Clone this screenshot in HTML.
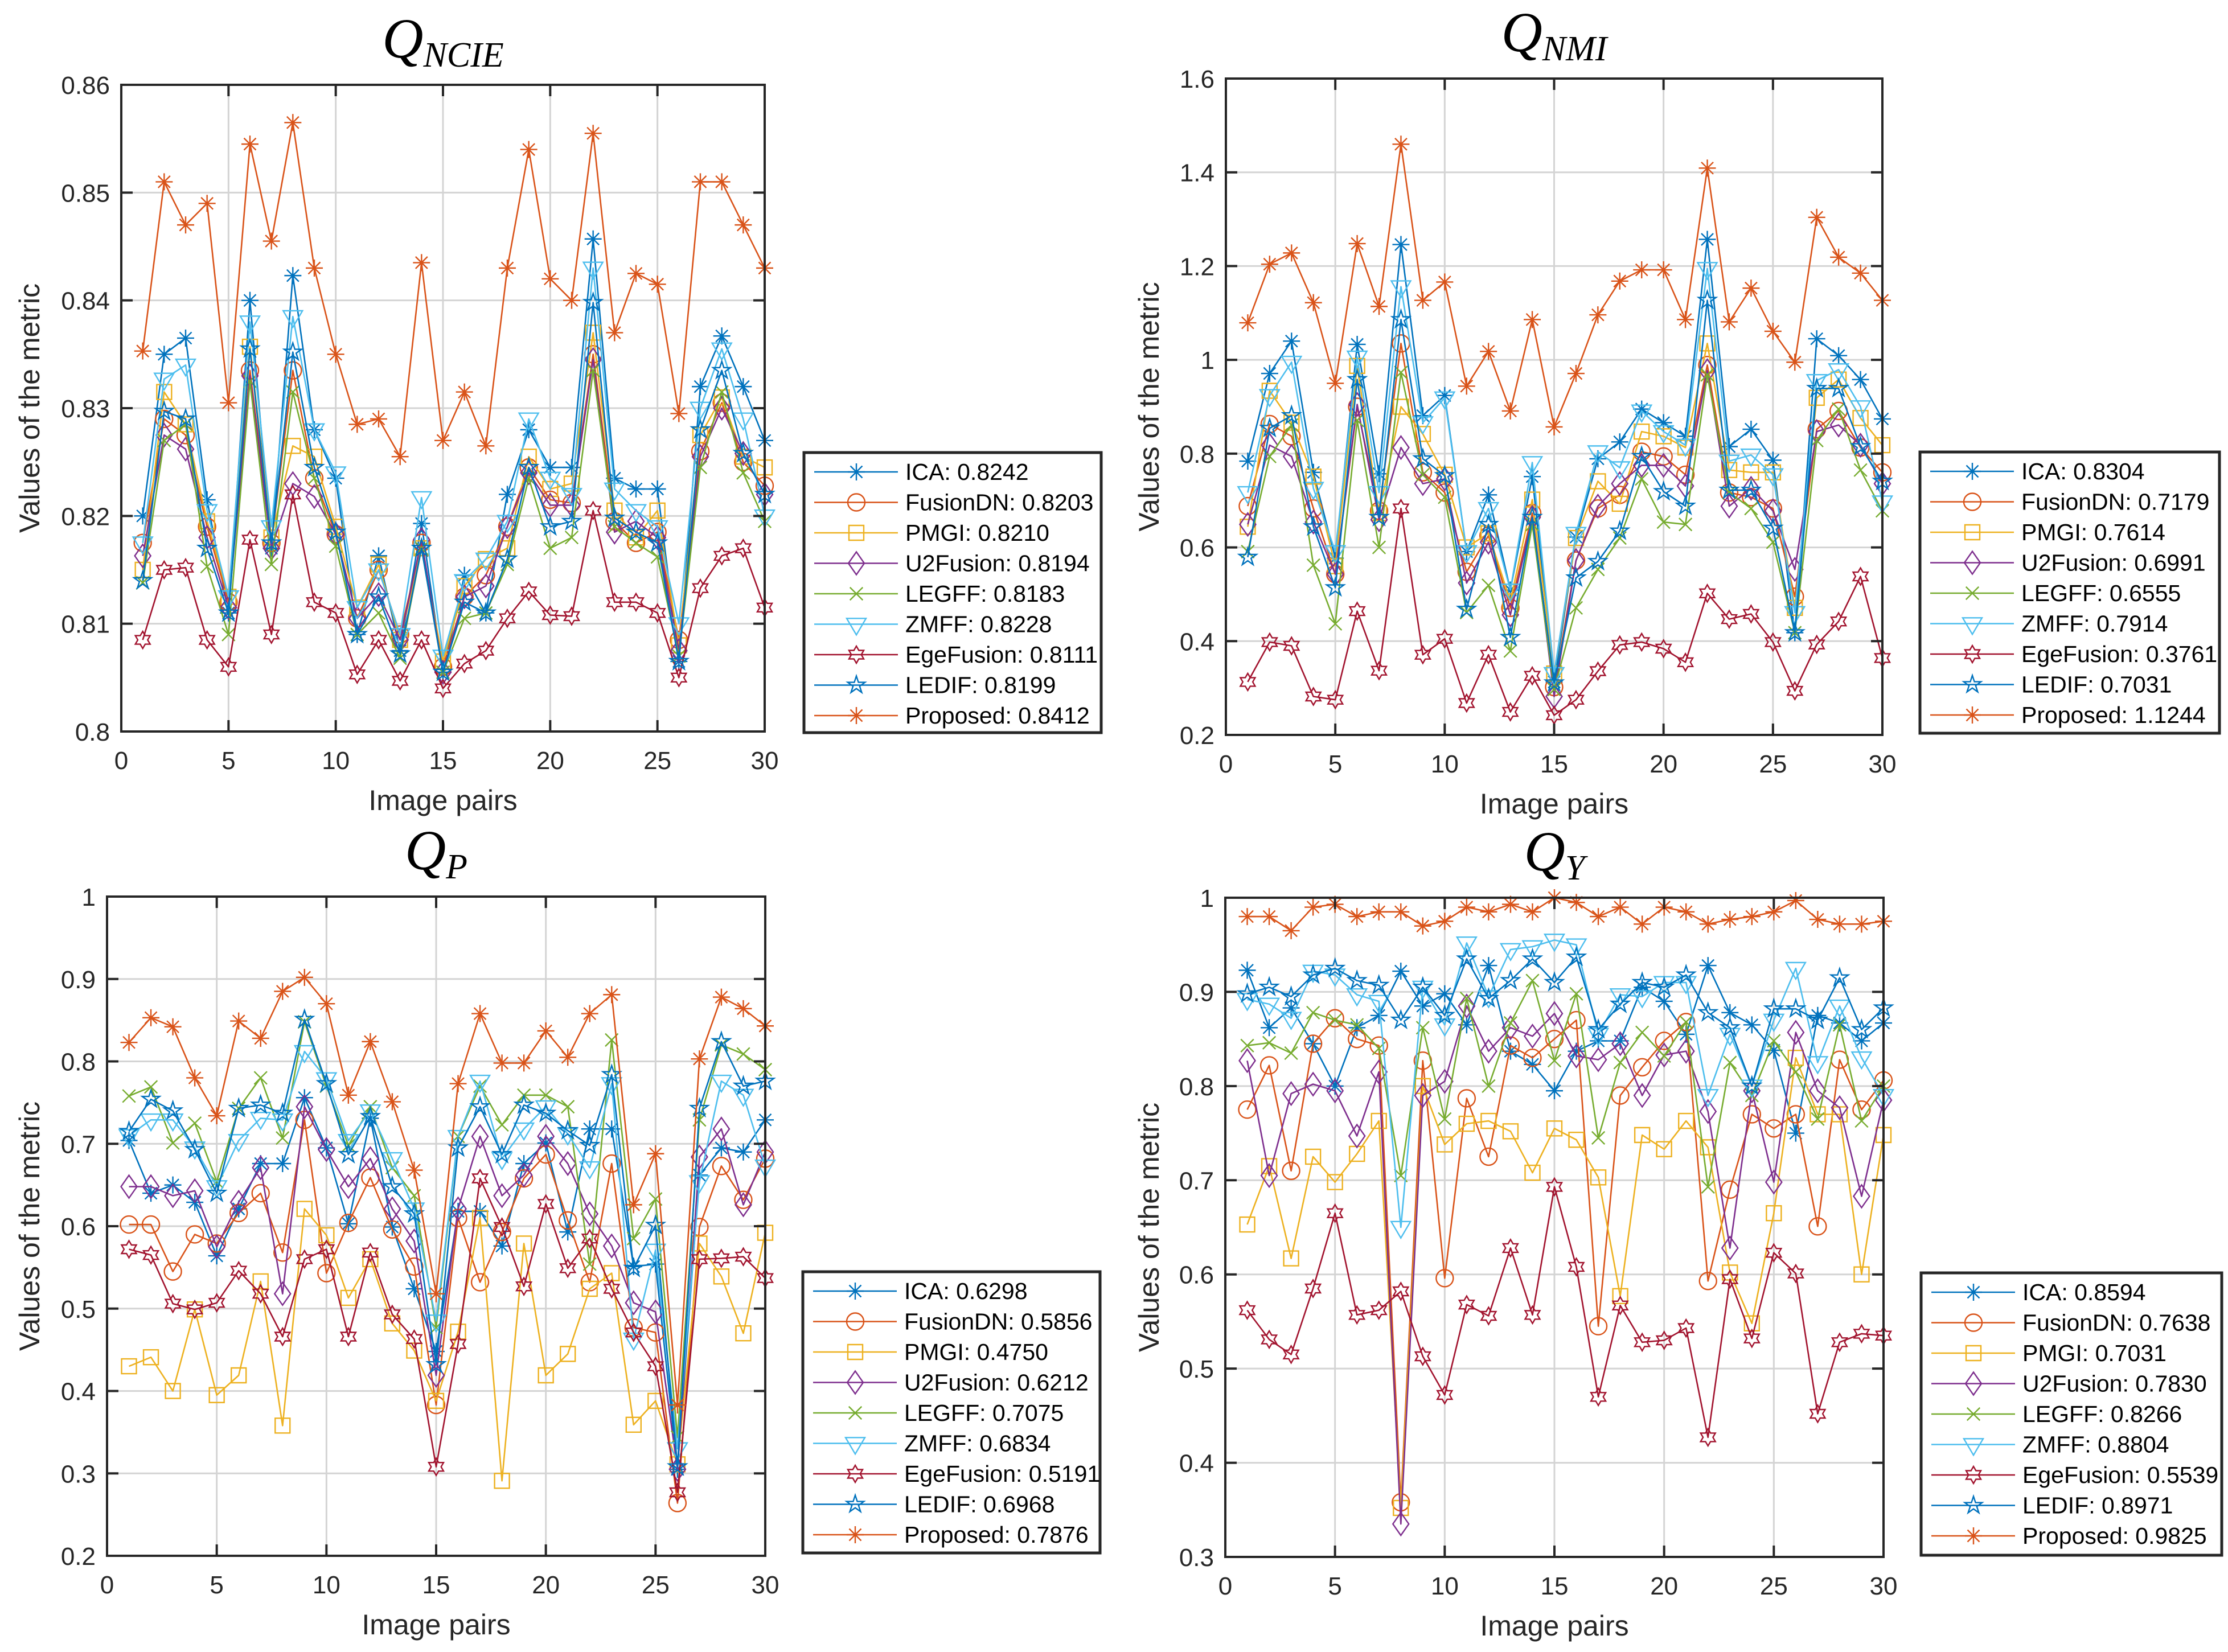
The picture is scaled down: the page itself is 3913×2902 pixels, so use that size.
<!DOCTYPE html>
<html><head><meta charset="utf-8"><style>html,body{margin:0;padding:0;background:#fff}svg{display:block}</style></head>
<body>
<svg id="fig" xmlns="http://www.w3.org/2000/svg" width="3913" height="2902" viewBox="0 0 3913 2902" font-family="'Liberation Sans', sans-serif">
<rect x="0" y="0" width="3913" height="2902" fill="#fff"/>
</svg>
<script>
// ---- data ----
const methods = ["ICA","FusionDN","PMGI","U2Fusion","LEGFF","ZMFF","EgeFusion","LEDIF","Proposed"];
const pairs = [1,2,3,4,5,6,7,8,9,10,11,12,13,14,15,16,17,18,19,20,21,22,23,24,25,26,27,28,29,30];
const xTicks = [0,5,10,15,20,25,30];

const ncieTicks = [0.8,0.81,0.82,0.83,0.84,0.85,0.86];
const ncieTickLabels = ["0.8","0.81","0.82","0.83","0.84","0.85","0.86"];
const ncieMeans = ["0.8242","0.8203","0.8210","0.8194","0.8183","0.8228","0.8111","0.8199","0.8412"];
const ncieICA = [0.820,0.835,0.8365,0.8215,0.811,0.840,0.817,0.8423,0.828,0.8235,0.809,0.8163,0.8075,0.8193,0.8055,0.8145,0.811,0.822,0.828,0.8245,0.8245,0.8457,0.8235,0.8225,0.8225,0.8065,0.832,0.8367,0.832,0.827];
const ncieFusionDN = [0.8175,0.829,0.8275,0.819,0.812,0.8335,0.8175,0.8335,0.8235,0.8183,0.8105,0.815,0.809,0.8175,0.806,0.8125,0.8145,0.819,0.8245,0.8215,0.8212,0.835,0.8195,0.8175,0.8185,0.8085,0.826,0.8305,0.825,0.8228];
const nciePMGI = [0.815,0.8315,0.8285,0.8195,0.8125,0.8357,0.818,0.8265,0.8255,0.819,0.8115,0.8155,0.8085,0.817,0.8065,0.8135,0.816,0.817,0.8255,0.8225,0.823,0.837,0.8205,0.818,0.8205,0.808,0.8275,0.831,0.8255,0.8245];
const ncieU2Fusion = [0.8163,0.8275,0.8262,0.818,0.8115,0.833,0.817,0.823,0.8218,0.8183,0.8105,0.8127,0.8085,0.8178,0.8055,0.8125,0.8135,0.819,0.824,0.821,0.821,0.8345,0.8185,0.8195,0.818,0.8075,0.8255,0.830,0.8258,0.822];
const ncieLEGFF = [0.8138,0.827,0.8285,0.8153,0.809,0.8325,0.8155,0.8315,0.8235,0.8172,0.809,0.811,0.8068,0.817,0.8055,0.8105,0.811,0.8155,0.8235,0.817,0.818,0.8335,0.819,0.8175,0.8162,0.807,0.8245,0.8315,0.824,0.8195];
const ncieZMFF = [0.8175,0.8327,0.834,0.8205,0.8125,0.838,0.819,0.8385,0.828,0.824,0.8115,0.815,0.809,0.8217,0.807,0.814,0.816,0.8195,0.829,0.8235,0.822,0.843,0.8225,0.8205,0.819,0.810,0.830,0.8355,0.829,0.820];
const ncieEge = [0.8085,0.815,0.8152,0.8085,0.806,0.8178,0.809,0.822,0.812,0.811,0.8053,0.8085,0.8047,0.8085,0.804,0.8063,0.8075,0.8105,0.813,0.8108,0.8107,0.8205,0.812,0.812,0.811,0.805,0.8133,0.8163,0.817,0.8115];
const ncieLEDIF = [0.814,0.8297,0.829,0.817,0.811,0.8355,0.8175,0.8352,0.8245,0.8185,0.809,0.8125,0.8072,0.817,0.8055,0.812,0.811,0.816,0.8245,0.819,0.8195,0.8398,0.8198,0.8185,0.8175,0.8065,0.828,0.8335,0.8258,0.822];
const ncieProposed = [0.8353,0.851,0.847,0.849,0.8305,0.8545,0.8455,0.8565,0.843,0.835,0.8285,0.829,0.8255,0.8435,0.827,0.8315,0.8265,0.843,0.854,0.842,0.840,0.8555,0.837,0.8425,0.8415,0.8295,0.851,0.851,0.847,0.843];

const nmiTicks = [0.2,0.4,0.6,0.8,1,1.2,1.4,1.6];
const nmiTickLabels = ["0.2","0.4","0.6","0.8","1","1.2","1.4","1.6"];
const nmiMeans = ["0.8304","0.7179","0.7614","0.6991","0.6555","0.7914","0.3761","0.7031","1.1244"];
const nmiICA = [0.784,0.971,1.04,0.76,0.577,1.033,0.757,1.246,0.881,0.924,0.591,0.712,0.509,0.751,0.313,0.622,0.789,0.825,0.895,0.866,0.837,1.257,0.815,0.852,0.786,0.418,1.045,1.009,0.958,0.874];
const nmiFusionDN = [0.688,0.863,0.837,0.683,0.543,0.9,0.678,1.035,0.76,0.717,0.548,0.625,0.471,0.673,0.302,0.572,0.683,0.712,0.804,0.794,0.755,0.989,0.717,0.707,0.683,0.495,0.852,0.891,0.813,0.76];
const nmiPMGI = [0.644,0.934,0.866,0.751,0.56,0.987,0.673,0.9,0.842,0.755,0.6,0.63,0.485,0.702,0.331,0.62,0.741,0.693,0.847,0.837,0.813,1.035,0.765,0.76,0.76,0.471,0.919,0.958,0.876,0.818];
const nmiU2Fusion = [0.649,0.818,0.794,0.654,0.543,0.905,0.659,0.813,0.736,0.746,0.524,0.611,0.456,0.664,0.282,0.572,0.688,0.736,0.775,0.775,0.731,0.977,0.688,0.726,0.678,0.553,0.847,0.861,0.818,0.736];
const nmiLEGFF = [0.591,0.794,0.861,0.562,0.437,0.871,0.6,0.973,0.755,0.707,0.461,0.519,0.379,0.649,0.297,0.471,0.553,0.62,0.746,0.654,0.649,0.968,0.717,0.683,0.611,0.418,0.828,0.895,0.765,0.678];
const nmiZMFF = [0.717,0.924,0.995,0.726,0.591,1.006,0.717,1.156,0.866,0.919,0.591,0.683,0.509,0.781,0.331,0.63,0.804,0.77,0.891,0.847,0.818,1.195,0.784,0.797,0.755,0.461,0.956,0.979,0.9,0.697];
const nmiEge = [0.313,0.398,0.39,0.282,0.275,0.464,0.337,0.683,0.371,0.405,0.268,0.371,0.249,0.326,0.242,0.275,0.336,0.392,0.398,0.384,0.355,0.502,0.447,0.458,0.398,0.294,0.393,0.442,0.538,0.364];
const nmiLEDIF = [0.579,0.854,0.881,0.644,0.514,0.958,0.664,1.086,0.789,0.753,0.468,0.649,0.408,0.664,0.311,0.535,0.57,0.635,0.794,0.719,0.688,1.127,0.722,0.722,0.641,0.418,0.939,0.939,0.815,0.741];
const nmiProposed = [1.079,1.204,1.228,1.122,0.95,1.248,1.114,1.46,1.127,1.166,0.944,1.018,0.891,1.086,0.857,0.971,1.096,1.168,1.192,1.192,1.086,1.409,1.081,1.153,1.061,0.995,1.304,1.219,1.185,1.127];

const pTicks = [0.2,0.3,0.4,0.5,0.6,0.7,0.8,0.9,1];
const pTickLabels = ["0.2","0.3","0.4","0.5","0.6","0.7","0.8","0.9","1"];
const pMeans = ["0.6298","0.5856","0.4750","0.6212","0.7075","0.6834","0.5191","0.6968","0.7876"];
const pICA = [0.704,0.64,0.65,0.629,0.564,0.621,0.676,0.676,0.756,0.695,0.603,0.731,0.599,0.524,0.448,0.618,0.618,0.576,0.676,0.701,0.593,0.718,0.718,0.551,0.554,0.305,0.662,0.695,0.69,0.729];
const pFusionDN = [0.602,0.602,0.545,0.59,0.579,0.616,0.64,0.568,0.729,0.543,0.604,0.659,0.596,0.551,0.383,0.61,0.532,0.593,0.658,0.687,0.607,0.532,0.676,0.477,0.471,0.264,0.599,0.673,0.632,0.682];
const pPMGI = [0.43,0.441,0.4,0.499,0.395,0.419,0.533,0.358,0.621,0.589,0.513,0.56,0.482,0.449,0.388,0.472,0.61,0.291,0.579,0.419,0.445,0.524,0.543,0.359,0.388,0.311,0.579,0.539,0.47,0.592];
const pU2Fusion = [0.648,0.648,0.637,0.643,0.575,0.629,0.671,0.518,0.745,0.693,0.648,0.682,0.621,0.582,0.419,0.621,0.709,0.637,0.662,0.709,0.676,0.615,0.576,0.507,0.496,0.305,0.684,0.718,0.626,0.69];
const pLEGFF = [0.758,0.769,0.701,0.725,0.654,0.743,0.78,0.707,0.848,0.77,0.698,0.745,0.671,0.637,0.477,0.709,0.77,0.723,0.759,0.759,0.745,0.554,0.826,0.585,0.633,0.344,0.729,0.82,0.809,0.79];
const pZMFF = [0.71,0.729,0.729,0.695,0.648,0.704,0.731,0.729,0.812,0.779,0.704,0.74,0.682,0.621,0.485,0.709,0.776,0.682,0.718,0.745,0.712,0.671,0.773,0.463,0.571,0.33,0.654,0.776,0.759,0.673];
const pEge = [0.572,0.565,0.506,0.499,0.507,0.546,0.518,0.466,0.56,0.572,0.466,0.568,0.493,0.463,0.308,0.457,0.658,0.599,0.527,0.627,0.549,0.585,0.524,0.471,0.43,0.277,0.56,0.561,0.563,0.537];
const pLEDIF = [0.715,0.754,0.74,0.693,0.64,0.743,0.747,0.737,0.851,0.773,0.687,0.733,0.648,0.615,0.432,0.695,0.745,0.687,0.747,0.737,0.716,0.698,0.784,0.549,0.601,0.308,0.743,0.824,0.77,0.776];
const pProposed = [0.823,0.853,0.842,0.78,0.734,0.849,0.828,0.885,0.902,0.87,0.759,0.824,0.751,0.668,0.518,0.773,0.858,0.798,0.798,0.837,0.805,0.858,0.881,0.626,0.688,0.383,0.803,0.878,0.864,0.843];

const yTicks4 = [0.3,0.4,0.5,0.6,0.7,0.8,0.9,1];
const yTickLabels4 = ["0.3","0.4","0.5","0.6","0.7","0.8","0.9","1"];
const yMeans = ["0.8594","0.7638","0.7031","0.7830","0.8266","0.8804","0.5539","0.8971","0.9825"];
const yICA = [0.923,0.862,0.883,0.845,0.80,0.862,0.875,0.922,0.885,0.898,0.865,0.928,0.837,0.823,0.795,0.837,0.848,0.848,0.905,0.89,0.855,0.928,0.878,0.865,0.838,0.75,0.875,0.867,0.848,0.867];
const yFusionDN = [0.775,0.822,0.71,0.845,0.872,0.85,0.843,0.358,0.827,0.596,0.787,0.725,0.843,0.83,0.85,0.87,0.545,0.79,0.82,0.848,0.868,0.593,0.69,0.77,0.755,0.77,0.651,0.828,0.775,0.806];
const yPMGI = [0.653,0.715,0.617,0.725,0.698,0.728,0.763,0.352,0.80,0.738,0.76,0.763,0.752,0.708,0.755,0.743,0.703,0.577,0.748,0.733,0.763,0.735,0.602,0.548,0.665,0.83,0.77,0.77,0.60,0.748];
const yU2Fusion = [0.827,0.705,0.792,0.802,0.795,0.747,0.815,0.335,0.79,0.805,0.885,0.837,0.862,0.853,0.877,0.832,0.828,0.845,0.79,0.833,0.837,0.773,0.628,0.795,0.698,0.857,0.795,0.777,0.683,0.785];
const yLEGFF = [0.843,0.846,0.835,0.878,0.87,0.865,0.84,0.705,0.862,0.765,0.893,0.80,0.867,0.912,0.827,0.898,0.745,0.825,0.857,0.832,0.868,0.693,0.825,0.79,0.848,0.815,0.765,0.865,0.763,0.80];
const yZMFF = [0.892,0.887,0.872,0.922,0.918,0.897,0.89,0.65,0.905,0.865,0.952,0.895,0.945,0.948,0.955,0.95,0.855,0.897,0.895,0.91,0.91,0.79,0.855,0.80,0.87,0.925,0.825,0.885,0.83,0.79];
const yEge = [0.562,0.531,0.515,0.585,0.665,0.557,0.562,0.582,0.513,0.472,0.568,0.556,0.628,0.557,0.693,0.608,0.47,0.567,0.528,0.53,0.543,0.427,0.595,0.532,0.623,0.601,0.452,0.528,0.537,0.535];
const yLEDIF = [0.898,0.905,0.895,0.918,0.925,0.912,0.907,0.87,0.905,0.875,0.935,0.893,0.912,0.935,0.91,0.937,0.86,0.887,0.91,0.905,0.918,0.878,0.862,0.80,0.882,0.882,0.87,0.915,0.86,0.883];
const yProposed = [0.98,0.98,0.965,0.99,0.993,0.98,0.985,0.985,0.97,0.975,0.99,0.985,0.993,0.985,1.0,0.995,0.98,0.99,0.972,0.99,0.985,0.972,0.977,0.98,0.985,0.997,0.977,0.972,0.972,0.975];

// ---- styles ----
const colors = ["#0072BD","#D95319","#EDB120","#7E2F8E","#77AC30","#4DBEEE","#A2142F","#0072BD","#D95319"];
const markers = ["star","circle","square","diamond","x","tri","hex","pent","star"];
const NS = "http://www.w3.org/2000/svg";
const svg = document.getElementById('fig');
function mk(tag, attrs, parent){const e=document.createElementNS(NS,tag);for(const k in attrs)e.setAttribute(k,attrs[k]);(parent||svg).appendChild(e);return e;}

function markerPath(type,cx,cy){
  const r=15;
  if(type==="star"){return `M${cx-r},${cy}H${cx+r}M${cx},${cy-r}V${cy+r}M${cx-r*0.7},${cy-r*0.7}L${cx+r*0.7},${cy+r*0.7}M${cx-r*0.7},${cy+r*0.7}L${cx+r*0.7},${cy-r*0.7}`;}
  if(type==="x"){const a=r*0.75;return `M${cx-a},${cy-a}L${cx+a},${cy+a}M${cx-a},${cy+a}L${cx+a},${cy-a}`;}
  if(type==="circle"){return `M${cx-r},${cy}a${r},${r} 0 1,0 ${2*r},0a${r},${r} 0 1,0 ${-2*r},0Z`;}
  if(type==="square"){const a=13;return `M${cx-a},${cy-a}H${cx+a}V${cy+a}H${cx-a}Z`;}
  if(type==="diamond"){return `M${cx},${cy-20}L${cx+14},${cy}L${cx},${cy+20}L${cx-14},${cy}Z`;}
  if(type==="tri"){const a=17;return `M${cx-a},${cy-a*0.6}H${cx+a}L${cx},${cy+a*1.1}Z`;}
  if(type==="hex"){let d="";const R=15,ri=R*0.577;for(let i=0;i<12;i++){const ang=-Math.PI/2+i*Math.PI/6;const rr=i%2?ri:R;d+=(i?"L":"M")+(cx+rr*Math.cos(ang)).toFixed(1)+","+(cy+rr*Math.sin(ang)).toFixed(1);}return d+"Z";}
  if(type==="pent"){let d="";const R=16,ri=R*0.382;for(let i=0;i<10;i++){const ang=-Math.PI/2+i*Math.PI/5;const rr=i%2?ri:R;d+=(i?"L":"M")+(cx+rr*Math.cos(ang)).toFixed(1)+","+(cy+rr*Math.sin(ang)).toFixed(1);}return d+"Z";}
}

function drawPanel(cfg){
  const g=mk('g',{});
  
  
  const {x0,x1,y0,y1,ymin,ymax}=cfg;
  const sx=v=>x0+(v-0)/30*(x1-x0);
  const sy=v=>y1-(v-ymin)/(ymax-ymin)*(y1-y0);
  xTicks.forEach(t=>{if(t>0&&t<30){const l=mk('line',{x1:sx(t),x2:sx(t),y1:y0,y2:y1,stroke:'#d4d4d4','stroke-width':3},g);}});
  cfg.ticks.forEach(t=>{if(t>ymin+1e-9&&t<ymax-1e-9){const l=mk('line',{x1:x0,x2:x1,y1:sy(t),y2:sy(t),stroke:'#d4d4d4','stroke-width':3},g);}});
  cfg.series.forEach((vals,si)=>{
    const sg=mk('g',{},g);
    
    
    const pts=vals.map((v,i)=>sx(pairs[i]).toFixed(1)+","+sy(v).toFixed(1)).join(" ");
    const pl=mk('polyline',{points:pts,fill:'none',stroke:colors[si],'stroke-width':2.6,'stroke-linejoin':'round'},sg);
    
    
    let d="";vals.forEach((v,i)=>{d+=markerPath(markers[si],sx(pairs[i]),sy(v));});
    const mp=mk('path',{d:d,fill:'none',stroke:colors[si],'stroke-width':2.4},sg);
    
    
  });
  const box=mk('rect',{x:x0,y:y0,width:x1-x0,height:y1-y0,fill:'none',stroke:'#262626','stroke-width':4},g);
  
  
  xTicks.forEach(t=>{
    mk('line',{x1:sx(t),x2:sx(t),y1:y1,y2:y1-20,stroke:'#262626','stroke-width':4},g);
    mk('line',{x1:sx(t),x2:sx(t),y1:y0,y2:y0+20,stroke:'#262626','stroke-width':4},g);
    const tx=mk('text',{x:sx(t),y:y1+66,'font-size':44,'text-anchor':'middle',fill:'#262626'},g);
    tx.textContent=String(t);
    
    
  });
  cfg.ticks.forEach((t,i)=>{
    mk('line',{x1:x0,x2:x0+20,y1:sy(t),y2:sy(t),stroke:'#262626','stroke-width':4},g);
    mk('line',{x1:x1,x2:x1-20,y1:sy(t),y2:sy(t),stroke:'#262626','stroke-width':4},g);
    const tx=mk('text',{x:x0-20,y:sy(t)+16,'font-size':44,'text-anchor':'end',fill:'#262626'},g);
    tx.textContent=cfg.tickLabels[i];
    
    
  });
  const xl=mk('text',{x:(x0+x1)/2,y:y1+138,'font-size':50,'text-anchor':'middle',fill:'#262626'},g);
  xl.textContent='Image pairs';
  
  
  const yc=(y0+y1)/2;
  const yl=mk('text',{x:cfg.ylx,y:yc,'font-size':50,'text-anchor':'middle',fill:'#262626',transform:`rotate(-90 ${cfg.ylx} ${yc})`,'dominant-baseline':'central'},g);
  yl.textContent='Values of the metric';
  
  
  const tt=mk('text',{x:(x0+x1)/2,y:y0-48,'font-size':100,'text-anchor':'middle','font-family':"'Liberation Serif', serif",'font-style':'italic',fill:'#000'},g);
  
  
  const q=mk('tspan',{},tt);q.textContent='Q';
  const sub=mk('tspan',{'font-size':62,dy:16},tt);sub.textContent=cfg.sub;
  const L=cfg.leg;
  const lg=mk('g',{},g);
  
  
  mk('rect',{x:L.x,y:L.y,width:L.w,height:L.h,fill:'#fff',stroke:'#262626','stroke-width':5},lg);
  methods.forEach((m,i)=>{
    const eg=mk('g',{},lg);
    
    
    const cy=L.y+34+i*53.5;
    mk('line',{x1:L.x+18,x2:L.x+165,y1:cy,y2:cy,stroke:colors[i],'stroke-width':2.6},eg);
    mk('path',{d:markerPath(markers[i],L.x+92,cy),fill:'none',stroke:colors[i],'stroke-width':2.4},eg);
    const t=mk('text',{x:L.x+178,y:cy+14,'font-size':41,fill:'#000'},eg);
    t.textContent=m+': '+cfg.means[i];
  });
}

drawPanel({name:'qncie',sub:'NCIE',x0:213,x1:1343,y0:149,y1:1285,ymin:0.8,ymax:0.86,ticks:ncieTicks,tickLabels:ncieTickLabels,ylx:52,means:ncieMeans,
  series:[ncieICA,ncieFusionDN,nciePMGI,ncieU2Fusion,ncieLEGFF,ncieZMFF,ncieEge,ncieLEDIF,ncieProposed],leg:{x:1412,y:795,w:522,h:492}});
drawPanel({name:'qnmi',sub:'NMI',x0:2153,x1:3306,y0:138,y1:1291,ymin:0.2,ymax:1.6,ticks:nmiTicks,tickLabels:nmiTickLabels,ylx:2018,means:nmiMeans,
  series:[nmiICA,nmiFusionDN,nmiPMGI,nmiU2Fusion,nmiLEGFF,nmiZMFF,nmiEge,nmiLEDIF,nmiProposed],leg:{x:3372,y:794,w:526,h:494}});
drawPanel({name:'qp',sub:'P',x0:188,x1:1344,y0:1575,y1:2733,ymin:0.2,ymax:1,ticks:pTicks,tickLabels:pTickLabels,ylx:52,means:pMeans,
  series:[pICA,pFusionDN,pPMGI,pU2Fusion,pLEGFF,pZMFF,pEge,pLEDIF,pProposed],leg:{x:1410,y:2234,w:522,h:494}});
drawPanel({name:'qy',sub:'Y',x0:2152,x1:3308,y0:1577,y1:2735,ymin:0.3,ymax:1,ticks:yTicks4,tickLabels:yTickLabels4,ylx:2018,means:yMeans,
  series:[yICA,yFusionDN,yPMGI,yU2Fusion,yLEGFF,yZMFF,yEge,yLEDIF,yProposed],leg:{x:3374,y:2236,w:528,h:496}});
</script>
</body></html>
